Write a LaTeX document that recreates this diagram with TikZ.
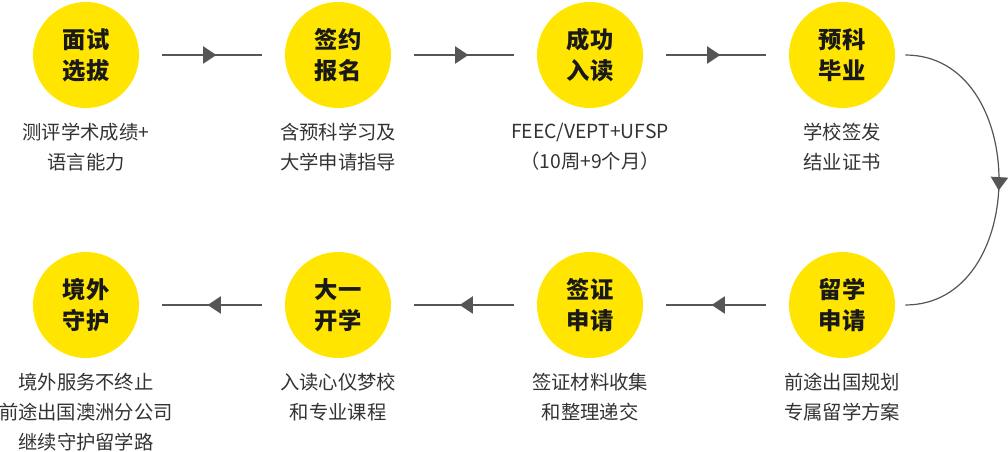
\documentclass[tikz,border=0pt]{standalone}
\usepackage{fontspec}
\setmainfont{Noto Sans CJK SC}
\usetikzlibrary{positioning,arrows.meta,decorations.markings}
\definecolor{stepyellow}{HTML}{FFE500}
\definecolor{linegray}{HTML}{555555}
\definecolor{notegray}{HTML}{333333}
\tikzset{
  stage/.style={circle,fill=stepyellow,minimum size=79.5pt,inner sep=0pt,align=center,
    font=\fontsize{17.5}{23.25}\selectfont\bfseries,text=black!90},
  note/.style={align=center,inner sep=0pt,text=notegray,font=\fontsize{14.5}{22.5}\selectfont},
  midtip/.style={draw=linegray,line width=0.9pt,
    decoration={markings,mark=at position 0.53 with {\arrow{Triangle[length=10pt,width=13pt]}}},
    postaction=decorate},
  flow/.style={midtip,shorten >=17pt,shorten <=17pt},
  turn/.style={midtip}
}
\begin{document}
\begin{tikzpicture}[x=0.75pt,y=-0.75pt]
\useasboundingbox (0,0) rectangle (1008,452);
\pgfmathsetmacro{\dx}{252}
% top row
\node[stage] (ms) at (86,55) {面试\\选拔};
\node[stage] (qy) at (86+\dx,55) {签约\\报名};
\node[stage] (cg) at (86+2*\dx,55) {成功\\入读};
\node[stage] (yk) at (86+3*\dx,55) {预科\\毕业};
% bottom row
\node[stage] (lx) at (86+3*\dx,305) {留学\\申请};
\node[stage] (qz) at (86+2*\dx,305) {签证\\申请};
\node[stage] (dy) at (86+\dx,305) {大一\\开学};
\node[stage] (jw) at (86,305) {境外\\守护};
% notes
\node[note,below=11pt of ms] {测评学术成绩+\\语言能力};
\node[note,below=11pt of qy] {含预科学习及\\大学申请指导};
\node[note,below=11pt of cg] {FEEC/VEPT+UFSP\\（10周+9个月）};
\node[note,below=11pt of yk] {学校签发\\结业证书};
\node[note,below=11pt of lx] {前途出国规划\\专属留学方案};
\node[note,below=11pt of qz] {签证材料收集\\和整理递交};
\node[note,below=11pt of dy] {入读心仪梦校\\和专业课程};
\node[note,below=11pt of jw] {境外服务不终止\\前途出国澳洲分公司\\继续守护留学路};
% connectors
\draw[flow] (ms)--(qy);
\draw[flow] (qy)--(cg);
\draw[flow] (cg)--(yk);
\draw[turn] ([xshift=7.5pt]yk.east) .. controls +(125,0) and +(125,0) .. ([xshift=7.5pt]lx.east);
\draw[flow] (lx)--(qz);
\draw[flow] (qz)--(dy);
\draw[flow] (dy)--(jw);
\end{tikzpicture}
\end{document}
